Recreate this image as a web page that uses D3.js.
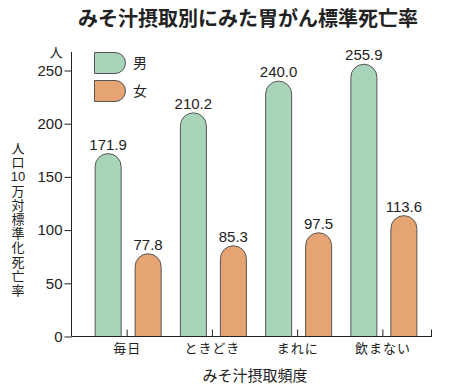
<!DOCTYPE html>
<html>
<head>
<meta charset="utf-8">
<script src="https://cdn.jsdelivr.net/npm/d3@7"></script>
<style>
  body { margin: 0; background: #fff; }
  svg text { font-family: "Liberation Sans", "Noto Sans CJK JP", sans-serif; fill: #222; }
</style>
</head>
<body>
<svg id="chart" width="450" height="388"></svg>
<script>
// data
const categories = ['毎日', 'ときどき', 'まれに', '飲まない'];
const sexes = ['男', '女'];
const male = [171.9, 210.2, 240.0, 255.9];
const female = [77.8, 85.3, 97.5, 113.6];
const yTicks = [0, 50, 100, 150, 200, 250];
const yTitle = ['人', '口', '10', '万', '対', '標', '準', '化', '死', '亡', '率'];

const colors = { '男': '#a8d5b9', '女': '#e6a473' };

const svg = d3.select('#chart');

let yscale = d3.scaleLinear()
    .domain([0, 250])
    .range([336.5, 70.5]);

let xscale = d3.scaleBand()
    .domain(categories)
    .range([84.5, 425.5]);

let inner = d3.scaleBand()
    .domain(sexes)
    .range([-32, 34])
    .paddingInner(0.35);

const center = c => xscale(c) + xscale.bandwidth() / 2;

// title
svg.append('text')
    .attr('x', 248).attr('y', 26)
    .attr('text-anchor', 'middle')
    .style('font-size', '20px')
    .style('font-weight', 'bold')
    .text('みそ汁摂取別にみた胃がん標準死亡率');

// bars: flat bottom, round top
let bars = [];
categories.forEach((c, i) => {
    bars.push({ cat: c, sex: '男', value: male[i] });
    bars.push({ cat: c, sex: '女', value: female[i] });
});

function barPath(x0, w, top, bottom) {
    let r = w / 2;
    return `M${x0},${bottom} L${x0},${top + r} A${r},${r} 0 0 1 ${x0 + w},${top + r} L${x0 + w},${bottom} Z`;
}

svg.append('g').selectAll('path')
    .data(bars)
    .join('path')
    .attr('d', d => barPath(center(d.cat) + inner(d.sex), inner.bandwidth(), yscale(d.value), yscale(0)))
    .attr('fill', d => colors[d.sex])
    .attr('stroke', '#555')
    .attr('stroke-width', 1);

svg.append('g').selectAll('text')
    .data(bars)
    .join('text')
    .attr('x', d => center(d.cat) + inner(d.sex) + inner.bandwidth() / 2)
    .attr('y', d => yscale(d.value) - 4)
    .attr('text-anchor', 'middle')
    .style('font-size', '15px')
    .text(d => d.value.toFixed(1));

// y axis
let yaxis = d3.axisLeft(yscale)
    .tickValues(yTicks)
    .tickSize(7)
    .tickPadding(2)
    .tickFormat(d => d);

let yg = svg.append('g')
    .attr('transform', 'translate(71.5, 0)')
    .call(yaxis);
yg.select('.domain').remove();
yg.selectAll('line').attr('stroke', '#222');
yg.selectAll('text').style('font-size', '15px').attr('fill', '#222');

svg.append('line')
    .attr('x1', 71.5).attr('x2', 71.5)
    .attr('y1', 52).attr('y2', yscale(0))
    .attr('stroke', '#222');

svg.append('text')
    .attr('x', 56).attr('y', 57)
    .attr('text-anchor', 'middle')
    .style('font-size', '13px')
    .text('人');

// vertical y title
svg.append('text')
    .attr('text-anchor', 'middle')
    .style('font-size', '13px')
    .selectAll('tspan')
    .data(yTitle)
    .join('tspan')
    .attr('x', 18)
    .attr('y', (d, i) => 153 + i * 14.2)
    .text(d => d);

// x axis, ticks point up
let xaxis = d3.axisBottom(xscale)
    .tickSize(-7)
    .tickPadding(7)
    .tickSizeOuter(0);

let xg = svg.append('g')
    .attr('transform', `translate(0, ${yscale(0)})`)
    .call(xaxis);
xg.select('.domain').remove();
xg.selectAll('line').attr('stroke', '#222');
xg.selectAll('text').style('font-size', '13px').style('letter-spacing', '1px').attr('fill', '#222');

svg.append('line')
    .attr('x1', 71.5).attr('x2', 432)
    .attr('y1', yscale(0)).attr('y2', yscale(0))
    .attr('stroke', '#222');
svg.append('line')
    .attr('x1', 431.5).attr('x2', 431.5)
    .attr('y1', yscale(0)).attr('y2', yscale(0) - 7)
    .attr('stroke', '#222');

svg.append('text')
    .attr('x', 255).attr('y', 381)
    .attr('text-anchor', 'middle')
    .style('font-size', '15px')
    .text('みそ汁摂取頻度');

// legend: flat left, round right
const legend = svg.append('g');
sexes.forEach((s, i) => {
    let x0 = 94.5, y0 = 52.5 + i * 28, w = 31, h = 21, r = h / 2;
    legend.append('path')
        .attr('d', `M${x0},${y0} L${x0 + w - r},${y0} A${r},${r} 0 0 1 ${x0 + w - r},${y0 + h} L${x0},${y0 + h} Z`)
        .attr('fill', colors[s])
        .attr('stroke', '#555');
    legend.append('text')
        .attr('x', 133).attr('y', y0 + 15)
        .style('font-size', '14px')
        .text(s);
});
</script>
</body>
</html>
